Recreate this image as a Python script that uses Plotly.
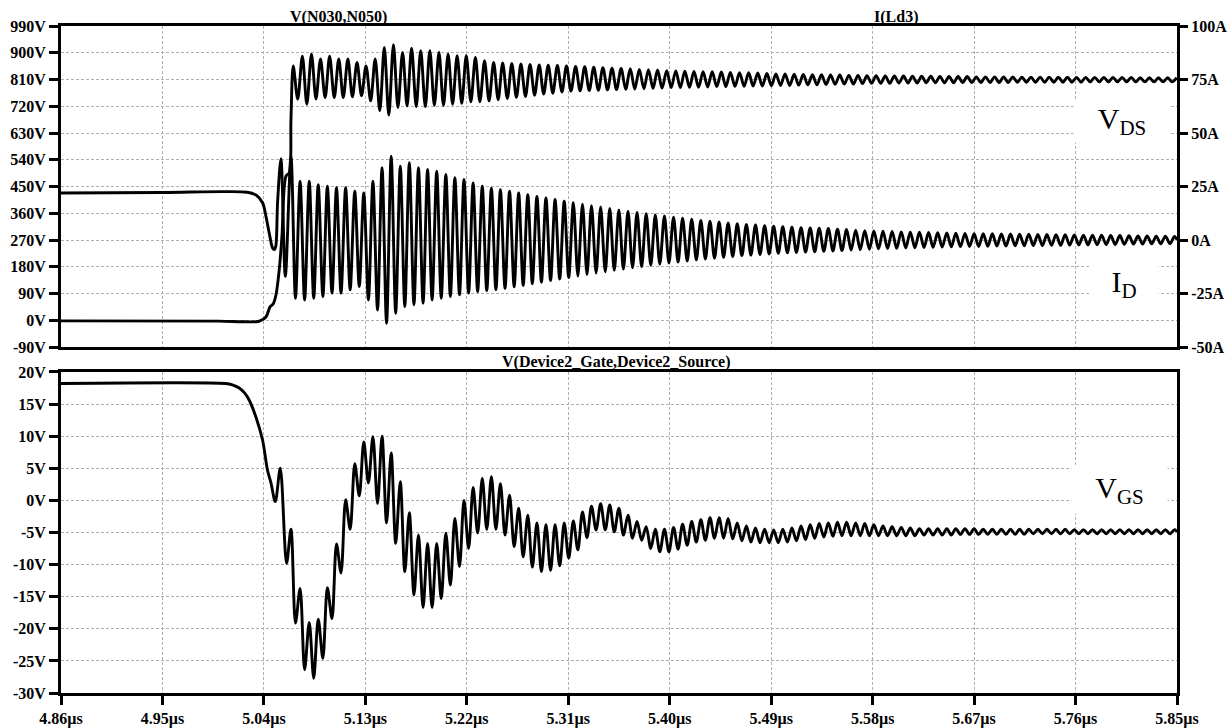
import plotly.graph_objects as go

# ---------------- data (time in ns) ----------------
x_tick_ns = [4860, 4950, 5040, 5130, 5220, 5310, 5400, 5490, 5580, 5670, 5760, 5850]
x_tick_text = ["4.86µs", "4.95µs", "5.04µs", "5.13µs", "5.22µs", "5.31µs",
               "5.40µs", "5.49µs", "5.58µs", "5.67µs", "5.76µs", "5.85µs"]
vds_ticks = [-90, 0, 90, 180, 270, 360, 450, 540, 630, 720, 810, 900, 990]
id_ticks = [-50, -25, 0, 25, 50, 75, 100]
vgs_ticks = [-30, -25, -20, -15, -10, -5, 0, 5, 10, 15, 20]

# ringing extrema: times of local maxima / minima (ns)
t_pk = [5064.0, 5072.1, 5080.2, 5088.2, 5096.3, 5104.4, 5112.5, 5120.6, 5128.6, 5136.7,
        5144.8, 5152.9, 5161.0, 5169.0, 5177.1, 5185.2, 5193.3, 5201.4, 5209.4, 5217.5,
        5225.6, 5233.7, 5241.8, 5249.8, 5257.9, 5266.0, 5274.1, 5282.2, 5290.2, 5298.3,
        5306.4, 5314.5, 5322.6, 5330.6, 5338.7, 5346.8, 5354.9, 5363.0, 5371.0, 5379.1,
        5387.2, 5395.3, 5403.4, 5411.4, 5419.5, 5427.6, 5435.7, 5443.8, 5451.8, 5459.9,
        5468.0, 5476.1, 5484.2, 5492.2, 5500.3, 5508.4, 5516.5, 5524.6, 5532.6, 5540.7,
        5548.8, 5556.9, 5565.0, 5573.0, 5581.1, 5589.2, 5597.3, 5605.4, 5613.4, 5621.5,
        5629.6, 5637.7, 5645.8, 5653.8, 5661.9, 5670.0, 5678.1, 5686.2, 5694.2, 5702.3,
        5710.4, 5718.5, 5726.6, 5734.6, 5742.7, 5750.8, 5758.9, 5767.0, 5775.0, 5783.1,
        5791.2, 5799.3, 5807.4, 5815.4, 5823.5, 5831.6, 5839.7, 5847.8]
t_tr = [5068.0, 5076.1, 5084.2, 5092.3, 5100.4, 5108.4, 5116.5, 5124.6, 5132.7, 5140.8,
        5148.8, 5156.9, 5165.0, 5173.1, 5181.2, 5189.2, 5197.3, 5205.4, 5213.5, 5221.6,
        5229.6, 5237.7, 5245.8, 5253.9, 5262.0, 5270.0, 5278.1, 5286.2, 5294.3, 5302.4,
        5310.4, 5318.5, 5326.6, 5334.7, 5342.8, 5350.8, 5358.9, 5367.0, 5375.1, 5383.2,
        5391.2, 5399.3, 5407.4, 5415.5, 5423.6, 5431.6, 5439.7, 5447.8, 5455.9, 5464.0,
        5472.0, 5480.1, 5488.2, 5496.3, 5504.4, 5512.4, 5520.5, 5528.6, 5536.7, 5544.8,
        5552.8, 5560.9, 5569.0, 5577.1, 5585.2, 5593.2, 5601.3, 5609.4, 5617.5, 5625.6,
        5633.6, 5641.7, 5649.8, 5657.9, 5666.0, 5674.0, 5682.1, 5690.2, 5698.3, 5706.4,
        5714.4, 5722.5, 5730.6, 5738.7, 5746.8, 5754.8, 5762.9, 5771.0, 5779.1, 5787.2,
        5795.2, 5803.3, 5811.4, 5819.5, 5827.6, 5835.6, 5843.7]
vds_lag_ns = 2.0  # VDS extrema lag the current extrema by about a quarter period

# I(Ld3) [A]
id_pre_t = [4860, 4950, 5005, 5025, 5033, 5038.8, 5041.8, 5044.7, 5047.7, 5049.2, 5050.5, 5052.1, 5055.1, 5059.0]
id_pre_v = [22.0, 22.2, 22.6, 22.3, 21.0, 17.4, 11.1, 3.3, -3.7, -4.5, -3.0, 17.4, 38.0, -17.0]
id_hi = [39.2, 27.5, 27.5, 25.9, 25.1, 24.4, 24.4, 22.8, 22.0, 27.5,
         33.8, 39.2, 34.5, 36.1, 33.8, 33.0, 32.2, 30.6, 29.1, 28.3,
         26.7, 25.1, 24.2, 23.5, 22.8, 22.0, 21.2, 20.4, 19.7, 18.9,
         18.1, 17.4, 16.7, 16.0, 15.4, 14.7, 14.1, 13.5, 12.9, 12.3,
         11.7, 11.2, 10.7, 10.2, 9.7, 9.2, 8.8, 8.4, 8.0, 7.6,
         7.3, 7.0, 6.7, 6.4, 6.2, 6.0, 5.8, 5.6, 5.5, 5.4,
         5.1, 4.9, 4.6, 4.4, 4.2, 4.1, 4.0, 3.8, 3.7, 3.6,
         3.5, 3.4, 3.3, 3.2, 3.1, 3.0, 3.0, 2.9, 2.8, 2.8,
         2.7, 2.7, 2.6, 2.6, 2.5, 2.5, 2.4, 2.3, 2.3, 2.2,
         2.1, 2.1, 2.0, 1.9, 1.9, 1.8, 1.8, 1.7]
id_lo = [-27.2, -28.0, -27.2, -26.4, -24.8, -24.8, -23.3, -21.7, -28.0, -32.7,
         -38.9, -34.2, -31.1, -30.3, -29.5, -28.0, -27.2, -26.4, -25.6, -24.8,
         -24.1, -23.6, -23.2, -22.6, -21.9, -21.2, -20.4, -19.7, -18.9, -18.2,
         -17.5, -16.8, -16.1, -15.4, -14.8, -14.2, -13.6, -13.0, -12.4, -11.8,
         -11.3, -10.8, -10.3, -9.8, -9.3, -8.9, -8.5, -8.1, -7.7, -7.4,
         -7.1, -6.8, -6.5, -6.2, -6.0, -5.8, -5.6, -5.5, -5.3, -5.1,
         -4.9, -4.7, -4.5, -4.3, -4.1, -4.0, -3.9, -3.7, -3.6, -3.5,
         -3.4, -3.3, -3.2, -3.1, -3.0, -3.0, -2.9, -2.8, -2.8, -2.7,
         -2.7, -2.6, -2.6, -2.5, -2.5, -2.4, -2.3, -2.3, -2.2, -2.1,
         -2.1, -2.0, -1.9, -1.9, -1.8, -1.8, -1.7]
id_end = (5850, 0.0)

# V(N030,N050) [V]
vds_pre_t = [4860, 5000, 5020, 5033, 5036.0, 5041.8, 5045.4, 5048.3, 5050.7, 5053.6, 5056.0, 5059.6, 5062.5, 5064.0]
vds_pre_v = [-2, -3, -5, -5, -3, 11, 45, 56, 85, 170, 283, 485, 496, 676]
vds_hi = [856, 888, 895, 879, 888, 879, 879, 867, 856, 879,
          918, 927, 901, 915, 907, 907, 901, 895, 890, 890,
          884, 873, 867, 866, 864, 862, 861, 859, 858, 857,
          856, 854, 853, 851, 850, 848, 847, 846, 844, 843,
          842, 840, 839, 838, 837, 836, 836, 835, 834, 833,
          833, 832, 830, 829, 829, 828, 827, 826, 826, 825,
          825, 824, 824, 823, 823, 822, 822, 822, 821, 821,
          821, 820, 820, 820, 820, 819, 819, 819, 819, 819,
          818, 818, 818, 818, 818, 818, 817, 817, 817, 817,
          817, 817, 817, 816, 816, 816, 816, 816]
vds_lo = [744, 727, 744, 749, 749, 749, 752, 755, 738, 705,
          690, 716, 721, 719, 719, 723, 723, 727, 730, 735,
          735, 738, 742, 746, 750, 753, 757, 761, 764, 768,
          771, 772, 773, 774, 775, 776, 777, 778, 779, 780,
          781, 783, 783, 784, 784, 785, 786, 786, 787, 787,
          788, 788, 789, 790, 790, 791, 792, 792, 793, 794,
          795, 795, 796, 797, 797, 797, 798, 798, 798, 799,
          799, 799, 799, 800, 800, 800, 800, 800, 800, 801,
          801, 801, 801, 801, 801, 801, 801, 802, 802, 802,
          802, 802, 802, 802, 802, 802, 802]

# V(Device2_Gate,Device2_Source) [V]
vgs_pre_t = [4860, 5006.0, 5012.0, 5018.1, 5023.0, 5027.0, 5032.9, 5038.8, 5043.2, 5046.3, 5050.1, 5054.5, 5060.1]
vgs_pre_v = [18.2, 18.2, 18.0, 17.5, 16.7, 15.6, 13.0, 9.4, 4.7, 2.7, -0.2, 5.0, -9.8]
vgs_hi = [-4.5, -13.7, -19.0, -18.5, -13.6, -6.8, 0.1, 5.7, 9.1, 9.9,
          10.0, 7.4, 2.9, -1.9, -5.4, -6.7, -6.7, -5.1, -2.8, 0.0,
          2.0, 3.4, 3.7, 2.6, 0.8, -1.2, -2.3, -3.5, -3.8, -3.8,
          -3.5, -3.2, -1.8, -0.9, -0.5, -0.7, -1.2, -2.3, -3.3, -4.1,
          -4.5, -4.5, -4.2, -3.7, -3.3, -3.0, -2.7, -2.7, -2.8, -3.5,
          -4.0, -4.3, -4.5, -4.6, -4.5, -4.3, -4.0, -3.8, -3.6, -3.5,
          -3.4, -3.4, -3.5, -3.6, -3.8, -4.0, -4.1, -4.2, -4.3, -4.4,
          -4.4, -4.4, -4.4, -4.4, -4.4, -4.4, -4.5, -4.5, -4.5, -4.5,
          -4.5, -4.5, -4.5, -4.5, -4.5, -4.5, -4.55, -4.55, -4.55, -4.55,
          -4.55, -4.55, -4.55, -4.55, -4.55, -4.55, -4.55, -4.55]
vgs_lo = [-19.1, -26.4, -27.7, -24.6, -18.4, -11.3, -4.5, 0.7, 2.7, -0.5,
          -3.5, -6.7, -11.1, -14.7, -16.7, -16.7, -15.3, -13.2, -10.3, -7.5,
          -5.1, -4.5, -4.5, -5.4, -7.2, -8.8, -10.4, -11.1, -10.9, -10.2,
          -9.0, -7.7, -5.8, -4.6, -4.6, -4.9, -5.4, -5.9, -6.2, -7.5,
          -8.0, -8.0, -7.6, -7.0, -6.5, -6.2, -5.9, -5.9, -6.0, -6.3,
          -6.5, -6.6, -6.6, -6.6, -6.5, -6.3, -6.1, -5.9, -5.7, -5.6,
          -5.5, -5.5, -5.5, -5.5, -5.5, -5.5, -5.5, -5.5, -5.5, -5.4,
          -5.4, -5.4, -5.4, -5.3, -5.3, -5.3, -5.3, -5.3, -5.3, -5.3,
          -5.3, -5.2, -5.2, -5.2, -5.2, -5.2, -5.2, -5.2, -5.2, -5.2,
          -5.2, -5.2, -5.2, -5.2, -5.2, -5.2, -5.2]
vgs_end = (5850, -4.9)


def interleave(a, b):
    out = []
    for i in range(len(a)):
        out.append(a[i])
        if i < len(b):
            out.append(b[i])
    return out


t_ring = interleave(t_pk, t_tr)

id_t = id_pre_t + t_ring + [id_end[0]]
id_v = id_pre_v + interleave(id_hi, id_lo) + [id_end[1]]
vds_t = vds_pre_t + [t + vds_lag_ns for t in t_ring]
vds_v = vds_pre_v + interleave(vds_hi, vds_lo)
vgs_t = vgs_pre_t + t_ring + [vgs_end[0]]
vgs_v = vgs_pre_v + interleave(vgs_hi, vgs_lo) + [vgs_end[1]]

# ---------------- figure ----------------
FONT = "Liberation Serif"
LW = 2.9
line = dict(color="black", width=LW, shape="spline", smoothing=0.9)

fig = go.Figure()
fig.add_trace(go.Scatter(x=vds_t, y=vds_v, mode="lines", line=line, xaxis="x", yaxis="y", hoverinfo="skip"))
fig.add_trace(go.Scatter(x=id_t, y=id_v, mode="lines", line=line, xaxis="x", yaxis="y2", hoverinfo="skip"))
fig.add_trace(go.Scatter(x=vgs_t, y=vgs_v, mode="lines", line=line, xaxis="x2", yaxis="y3", hoverinfo="skip"))

grid = dict(showgrid=True, gridcolor="#b0b0b0", gridwidth=1, griddash="3px,2px", zeroline=False)
frame = dict(showline=True, linewidth=3, linecolor="black", mirror=True)
tickfont = dict(family=FONT, size=16, color="black")
tickstyle = dict(ticks="outside", ticklen=9, tickwidth=2.5, tickcolor="black", tickfont=tickfont, automargin=False)

top_dom = [0.5187, 1.0]
bot_dom = [0.0, 0.4813]

fig.update_layout(
    width=1231, height=728,
    margin=dict(l=61, r=54, t=26, b=35),
    paper_bgcolor="white", plot_bgcolor="white",
    showlegend=False, hovermode=False,
    xaxis=dict(domain=[0, 1], anchor="y", range=[4860, 5850], tickmode="array", tickvals=x_tick_ns,
               showticklabels=False, ticks="", **grid, **frame),
    yaxis=dict(domain=top_dom, anchor="x", range=[-90, 990], tickmode="array", tickvals=vds_ticks,
               ticktext=[f"<b>{v}V</b>" for v in vds_ticks], **tickstyle, **grid, **frame),
    yaxis2=dict(overlaying="y", side="right", anchor="x", range=[-50, 100], tickmode="array",
                tickvals=id_ticks, ticktext=[f"<b>{v}A</b>" for v in id_ticks], showgrid=False,
                zeroline=False, showline=True, linewidth=3, linecolor="black",
                ticks="outside", ticklen=8, tickwidth=2.5, tickcolor="black", tickfont=tickfont, automargin=False),
    xaxis2=dict(domain=[0, 1], anchor="y3", range=[4860, 5850], tickmode="array", tickvals=x_tick_ns,
                ticktext=[f"<b>{s}</b>" for s in x_tick_text], **tickstyle, **grid, **frame),
    yaxis3=dict(domain=bot_dom, anchor="x2", range=[-30, 20], tickmode="array", tickvals=vgs_ticks,
                ticktext=[f"<b>{v}V</b>" for v in vgs_ticks], **tickstyle, **grid, **frame),
)

title_font = dict(family=FONT, size=16, color="black")
label_font = dict(family=FONT, size=30, color="black")
fig.add_annotation(text="<b>V(N030,N050)</b>", x=0.2491, y=1.0135, xref="paper", yref="paper",
                   showarrow=False, font=title_font, xanchor="center", yanchor="middle")
fig.add_annotation(text="<b>I(Ld3)</b>", x=0.7482, y=1.0135, xref="paper", yref="paper",
                   showarrow=False, font=title_font, xanchor="center", yanchor="middle")
fig.add_annotation(text="<b>V(Device2_Gate,Device2_Source)</b>", x=0.4979, y=0.497, xref="paper", yref="paper",
                   showarrow=False, font=title_font, xanchor="center", yanchor="middle")
fig.add_annotation(text="V<sub>DS</sub>", x=0.9505, y=0.8576, xref="paper", yref="paper", showarrow=False,
                   font=label_font, xanchor="center", yanchor="middle", bgcolor="white",
                   width=96, height=42, borderpad=0)
fig.add_annotation(text="I<sub>D</sub>", x=0.9525, y=0.6132, xref="paper", yref="paper", showarrow=False,
                   font=label_font, xanchor="center", yanchor="middle", bgcolor="white",
                   width=68, height=40, borderpad=0)
fig.add_annotation(text="V<sub>GS</sub>", x=0.9489, y=0.3043, xref="paper", yref="paper", showarrow=False,
                   font=label_font, xanchor="center", yanchor="middle", bgcolor="white",
                   width=95, height=46, borderpad=0)

fig.write_html("out.html", config={"displayModeBar": False},
               post_script="document.body.style.margin='0';document.body.style.overflow='hidden';")
